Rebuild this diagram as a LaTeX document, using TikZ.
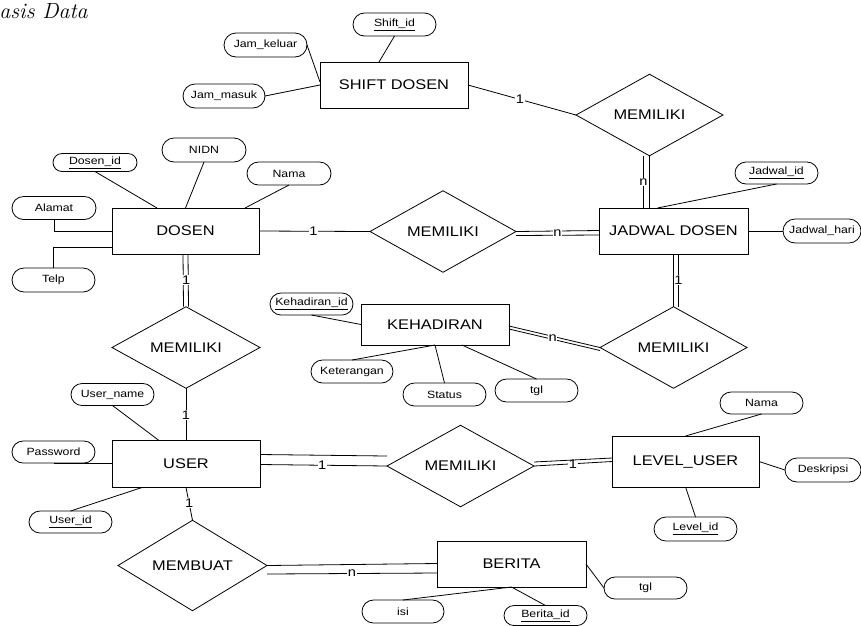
\documentclass[tikz,border=0pt]{standalone}
\usepackage{fontspec}
\newfontfamily\erfont[FakeStretch=1.17]{Liberation Sans}
\usetikzlibrary{shapes.geometric,shapes.misc}
\begin{document}
\begin{tikzpicture}[x=1pt,y=-1pt,line width=0.8pt,
  ent/.style={draw,fill=white,rectangle,inner sep=0pt,outer sep=0pt,font=\erfont\fontsize{14}{16}\selectfont},
  rel/.style={draw,fill=white,diamond,inner sep=0pt,outer sep=0pt,font=\erfont\fontsize{14}{16}\selectfont},
  attr/.style={draw,fill=white,rounded rectangle,inner sep=0pt,outer sep=0pt,minimum width=83pt,minimum height=23pt,font=\erfont\fontsize{10.5}{12}\selectfont},
  card/.style={fill=white,inner sep=0.6pt,font=\erfont\fontsize{12.5}{13}\selectfont}]
\useasboundingbox (0,0) rectangle (861,625);

% title
\node[anchor=base west,inner sep=0pt,font=\fontsize{22}{24}\selectfont\itshape] (title) at (-1,18) {asis Data};

% entities
\node[ent,minimum width=148pt,minimum height=46pt] (shift) at (394,85) {SHIFT DOSEN};
\node[ent,minimum width=147pt,minimum height=46pt] (dosen) at (185.5,231) {DOSEN};
\node[ent,minimum width=149pt,minimum height=46pt] (jadwal) at (673.5,231) {JADWAL DOSEN};
\node[ent,minimum width=148pt,minimum height=41pt] (kehadiran) at (435,324.5) {KEHADIRAN};
\node[ent,minimum width=148pt,minimum height=47pt] (user) at (186,464) {USER};
\node[ent,minimum width=147pt,minimum height=51pt] (level) at (685.5,461.5) {LEVEL\_USER};
\node[ent,minimum width=149pt,minimum height=46pt] (berita) at (511.5,564) {BERITA};

% relationships
\node[rel,minimum width=147pt,minimum height=68pt] (rTop) at (649.5,115) {MEMILIKI};
\node[rel,minimum width=146pt,minimum height=69pt] (rMid) at (443,231.5) {MEMILIKI};
\node[rel,minimum width=148pt,minimum height=69pt] (rLeft) at (186,347.5) {MEMILIKI};
\node[rel,minimum width=147pt,minimum height=69pt] (rKeh) at (673.5,347.5) {MEMILIKI};
\node[rel,minimum width=147pt,minimum height=69pt] (rUser) at (460.5,466) {MEMILIKI};
\node[rel,minimum width=149pt,minimum height=69pt] (rBuat) at (192.5,565.5) {MEMBUAT};

% attributes
\node[attr] (shiftid) at (394.5,24.5) {\underline{Shift\_id}};
\node[attr,minimum height=24pt] (jamkeluar) at (265.5,45) {Jam\_keluar};
\node[attr,minimum width=82pt,minimum height=24pt] (jammasuk) at (224,96) {Jam\_masuk};
\node[attr,minimum width=84pt,minimum height=18pt] (dosenid) at (95,162.5) {\underline{Dosen\_id}};
\node[attr,minimum width=84pt,minimum height=24pt] (nidn) at (204,150) {NIDN};
\node[attr,minimum width=84pt] (nama1) at (289,173.5) {Nama};
\node[attr,minimum width=84pt] (alamat) at (54,208) {Alamat};
\node[attr,minimum height=24pt] (telp) at (53.5,280) {Telp};
\node[attr,minimum height=22pt] (kehid) at (311.5,304) {\underline{Kehadiran\_id}};
\node[attr,minimum width=82pt] (ket) at (352,371.5) {Keterangan};
\node[attr] (status) at (444.5,394.5) {Status};
\node[attr] (tgla) at (536.5,390.5) {tgl};
\node[attr,minimum height=22pt] (jadid) at (776.5,173) {\underline{Jadwal\_id}};
\node[attr,minimum width=78pt,minimum height=24pt] (jadhari) at (822,231) {Jadwal\_hari};
\node[attr,minimum height=22pt] (username) at (112.5,394.5) {User\_name};
\node[attr,minimum height=22pt] (password) at (53.5,452) {Password};
\node[attr,minimum height=22pt] (userid) at (70.5,522) {\underline{User\_id}};
\node[attr,minimum height=22pt] (nama2) at (761.5,403) {Nama};
\node[attr,minimum width=76pt,minimum height=24pt] (deskripsi) at (823,470) {Deskripsi};
\node[attr,minimum height=24pt] (levelid) at (695.5,529) {\underline{Level\_id}};
\node[attr,minimum width=82pt] (isi) at (403,611.5) {isi};
\node[attr,minimum height=20pt] (beritaid) at (545.5,615.5) {\underline{Berita\_id}};
\node[attr,minimum height=22pt] (tglb) at (645.5,588) {tgl};

% SHIFT DOSEN
\draw (shiftid.south) -- ([xshift=-15pt]shift.north);
\draw (jamkeluar.east) -- ([yshift=3pt]shift.west);
\draw (jammasuk.east) -- (shift.west);
\draw (shift.east) -- node[card,pos=0.48] {1} (rTop.west);
\draw (rTop.south) -- (rTop.south |- jadwal.north);
\draw ([xshift=-6pt]rTop.south) -- node[card,pos=0.51] {n} ([xshift=-6pt]rTop.south |- jadwal.north);

% JADWAL DOSEN
\draw (jadid.south) -- ([xshift=-16pt]jadwal.north);
\draw (jadwal.east) -- (jadhari.west);
\draw (jadwal.south) -- (rKeh.north);
\draw ([xshift=5pt]jadwal.south) -- node[card,pos=0.5] {1} ([xshift=5pt]rKeh.north);

% DOSEN
\draw (dosenid.south) -- ([xshift=-28.5pt]dosen.north);
\draw (nidn.south) -- (dosen.north);
\draw (nama1.south) -- ([xshift=-14pt]dosen.north east);
\draw (alamat.south) |- (dosen.west);
\draw (telp.north) |- ([yshift=-16pt]dosen.west);
\draw (dosen.east) -- node[card,pos=0.49] {1} (rMid.west);
\draw (rMid.east) -- ([yshift=0.5pt]jadwal.west);
\draw ([yshift=-4pt]rMid.east) -- node[card,pos=0.5,yshift=2.3pt] {n} ([yshift=-4pt]jadwal.west);
\draw ([xshift=-2.5pt]dosen.south) -- ([xshift=-2.5pt]rLeft.north);
\draw ([xshift=2.5pt]dosen.south) -- node[card,pos=0.5,xshift=-2pt] {1} ([xshift=2.5pt]rLeft.north);

% KEHADIRAN
\draw (kehid.south) -- (kehadiran.west);
\draw (ket.north) -- (kehadiran.south);
\draw (status.north) -- (kehadiran.south);
\draw (tgla.north) -- ([xshift=27pt]kehadiran.south);
\draw ([yshift=-1.5pt]kehadiran.east) -- (rKeh.west);
\draw ([yshift=-4.5pt]kehadiran.east) -- node[card,pos=0.48,yshift=1.5pt] {n} ([yshift=-3pt]rKeh.west);

% USER
\draw (rLeft.south) -- node[card,pos=0.51] {1} (user.north);
\draw (username.south) -- ([xshift=-27pt]user.north);
\draw (password.south) -- (password.south -| user.west);
\draw (userid.north) -- ([xshift=-44pt]user.south);
\draw ([yshift=-0.5pt]user.east) -- node[card,pos=0.49] {1} (rUser.west);
\draw ([yshift=9.5pt]user.east) -- ([yshift=10pt]rUser.west);
\draw (user.south) -- node[card,pos=0.48] {1} (rBuat.north);

% LEVEL_USER
\draw (rUser.east) -- node[card,pos=0.5] {1} (level.west);
\draw ([yshift=4pt]rUser.east) -- ([yshift=3.5pt]level.west);
\draw (nama2.south) -- (level.north);
\draw (level.east) -- (deskripsi.west);
\draw (levelid.north) -- (level.south);

% BERITA
\draw (rBuat.east) -- ([yshift=0.5pt]berita.west);
\draw ([yshift=-8.5pt]rBuat.east) -- node[card,pos=0.5] {n} ([yshift=-9pt]berita.west);
\draw (berita.east) -- (tglb.west);
\draw (isi.north) -- (berita.south);
\draw (beritaid.north) -- (berita.south);
\end{tikzpicture}
\end{document}
